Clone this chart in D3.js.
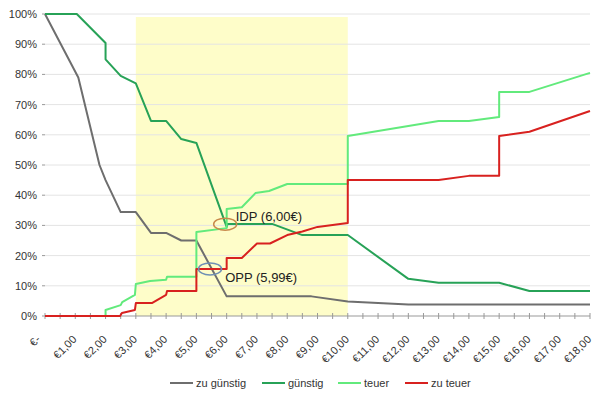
<!DOCTYPE html>
<html>
<head>
<meta charset="utf-8">
<script src="https://cdn.jsdelivr.net/npm/d3@7"></script>
<style>
  body { margin: 0; background: #fff; }
  text { font-family: "Liberation Sans", Arial, sans-serif; }
</style>
</head>
<body>
<svg id="chart" width="613" height="397"></svg>
<script>
// price in €, share in %
var zuGuenstig = [[0,100],[1.1,79],[1.8,50],[2.0,45],[2.5,34.4],[3.0,34.4],[3.5,27.5],[4.0,27.5],[4.5,25],[5.0,25],
  [6.0,6.5],[8.8,6.5],[10.0,4.8],[12.0,3.8],[18,3.8]];
var guenstig = [[0,100],[1.05,100],[2.0,90.4],[2.0,85],[2.5,79.5],[3.0,77],[3.5,64.6],[4.0,64.6],[4.5,58.6],[5.0,57.3],
  [6.0,29.5],[6.03,30.5],[7.5,30.5],[8.5,26.8],[10.0,26.8],[12.0,12.3],[13.0,11],[15.0,11],[16.0,8.3],[18,8.3]];
var teuer = [[0,0],[2.0,0],[2.0,2],[2.5,3.6],[2.55,4.6],[2.97,7],[3.0,10.6],[3.47,11.6],[4.0,12],[4.03,13],[5.0,13],
  [5.0,27.8],[6.0,29.1],[6.0,35.4],[6.5,36],[6.95,40.7],[7.4,41.4],[8.0,43.7],[10.0,43.7],[10.0,59.6],[13.0,64.6],
  [14.0,64.6],[15.0,65.9],[15.0,74.2],[16.0,74.2],[18.0,80.5]];
var zuTeuer = [[0,0],[2.48,0],[2.54,1],[2.97,2],[3.0,4.3],[3.53,4.3],[4.0,7],[4.03,8.3],[5.0,8.3],[5.0,15.6],[6.0,15.6],
  [6.0,19.2],[6.5,19.2],[7.0,24],[7.43,24],[8.0,26.8],[8.5,28],[9.0,29.5],[10.0,30.8],[10.0,45],[13.0,45],[14.0,46.4],
  [15.0,46.4],[15.0,59.6],[16.0,61],[18.0,67.9]];

var seriesNames = ["zu günstig", "günstig", "teuer", "zu teuer"];
var seriesColors = ["#6e6e6e", "#27a257", "#62ea7c", "#d8211f"];
var band = [3.0, 10.0, 99];   // acceptable price range
var marks = [
  {label: "IDP (6,00€)", at: [5.95, 30.4], text: [6.3, 31.6], color: "#c98a4c"},
  {label: "OPP (5,99€)", at: [5.45, 15.6], text: [5.95, 11.2], color: "#6f8fb4"}
];

var svg = d3.select("#chart");
var x = d3.scaleLinear().domain([0, 18]).range([45, 590]),
    y = d3.scaleLinear().domain([0, 100]).range([316, 14]);

// yellow band
svg.append("rect")
    .attr("x", x(band[0])).attr("y", y(band[2]))
    .attr("width", x(band[1]) - x(band[0])).attr("height", y(0) - y(band[2]))
    .attr("fill", "#fefdc9");

// gridlines + y labels
var yTicks = d3.range(0, 101, 10);
svg.append("g").selectAll("line").data(yTicks.slice(1)).enter().append("line")
    .attr("x1", x(0)).attr("x2", x(18))
    .attr("y1", function(d) { return y(d); }).attr("y2", function(d) { return y(d); })
    .attr("stroke", "#e4e4e4").attr("stroke-width", 1);
svg.append("g").selectAll("line").data(yTicks).enter().append("line")
    .attr("x1", x(0) - 3).attr("x2", x(0))
    .attr("y1", function(d) { return y(d); }).attr("y2", function(d) { return y(d); })
    .attr("stroke", "#999");
svg.append("g").selectAll("text").data(yTicks).enter().append("text")
    .attr("x", 37).attr("y", function(d) { return y(d) + 4; })
    .attr("text-anchor", "end").attr("font-size", 11).attr("fill", "#333")
    .text(function(d) { return d + "%"; });

// x axis
svg.append("line").attr("x1", x(0)).attr("x2", x(18)).attr("y1", y(0)).attr("y2", y(0))
    .attr("stroke", "#999");
svg.append("g").selectAll("line").data(d3.range(0, 18.01, 0.5)).enter().append("line")
    .attr("x1", function(d) { return x(d); }).attr("x2", function(d) { return x(d); })
    .attr("y1", y(0) - 3).attr("y2", y(0) + 3)
    .attr("stroke", "#999");
svg.append("g").selectAll("text").data(d3.range(0, 19, 1)).enter().append("text")
    .attr("transform", function(d) {
      var dx = d === 0 ? -4 : 2;
      return "translate(" + (x(d) + dx) + "," + (y(0) + 24) + ") rotate(-45)";
    })
    .attr("text-anchor", "end").attr("font-size", 11).attr("fill", "#333")
    .text(function(d) { return d === 0 ? "€-" : "€" + d + ",00"; });

// lines
var line = d3.line().x(function(d) { return x(d[0]); }).y(function(d) { return y(d[1]); });
var allSeries = [zuGuenstig, guenstig, teuer, zuTeuer];
svg.append("g").selectAll("path").data(allSeries).enter().append("path")
    .attr("d", line)
    .attr("fill", "none")
    .attr("stroke", function(d, i) { return seriesColors[i]; })
    .attr("stroke-width", 2)
    .attr("stroke-linejoin", "round");

// annotations
marks.forEach(function(m) {
  svg.append("ellipse")
      .attr("cx", x(m.at[0])).attr("cy", y(m.at[1]))
      .attr("rx", 11.5).attr("ry", 6)
      .attr("fill", "none").attr("stroke", m.color).attr("stroke-width", 1.5);
  svg.append("text")
      .attr("x", x(m.text[0])).attr("y", y(m.text[1]))
      .attr("font-size", 13).attr("fill", "#222")
      .text(m.label);
});

// legend
var legendX = [170, 262, 338, 405];
var lg = svg.append("g").selectAll("g").data(seriesNames).enter().append("g")
    .attr("transform", function(d, i) { return "translate(" + legendX[i] + ",383)"; });
lg.append("line").attr("x1", 0).attr("x2", 23).attr("y1", 0).attr("y2", 0)
    .attr("stroke", function(d, i) { return seriesColors[i]; }).attr("stroke-width", 2);
lg.append("text").attr("x", 26).attr("y", 4).attr("font-size", 11).attr("fill", "#333")
    .text(function(d) { return d; });
</script>
</body>
</html>
